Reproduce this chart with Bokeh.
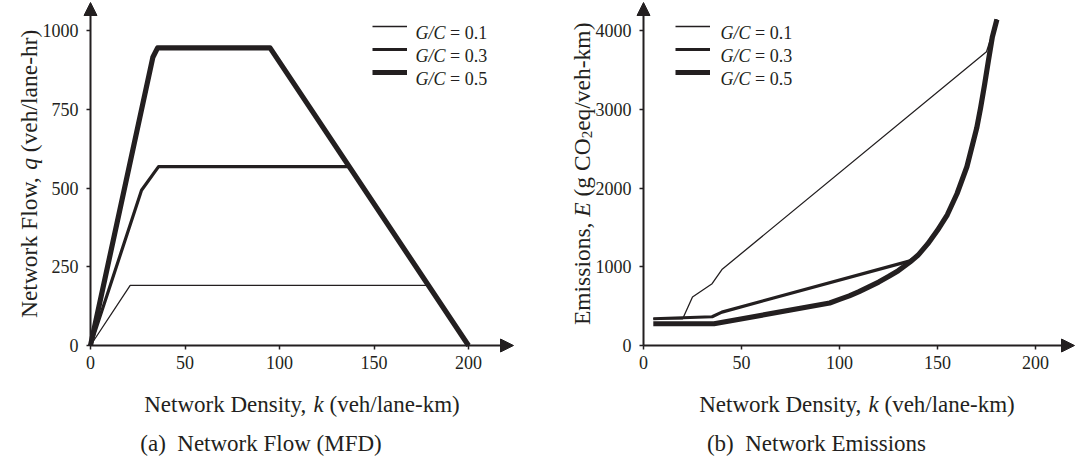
import math
from bokeh.plotting import figure
from bokeh.models import (Range1d, Arrow, NormalHead, Label, Legend, LegendItem,
                          FixedTicker, LinearAxis)
from bokeh.layouts import row
from bokeh.embed import file_html
from bokeh.resources import INLINE

# ---------------- data ----------------
series_names = ["0.1", "0.3", "0.5"]

# (a) Network Flow (MFD): density k, flow q
k_a_01 = [0, 21, 179, 200]
q_a_01 = [0, 191, 191, 0]
k_a_03 = [0, 27, 36, 137, 200]
q_a_03 = [0, 493, 568, 568, 0]
k_a_05 = [0, 33, 35.5, 95, 200]
q_a_05 = [0, 915, 945, 945, 0]

# (b) Network Emissions: density k, emissions E
k_b_01 = [5, 20, 25, 35, 40, 175, 180.3]
e_b_01 = [340, 340, 615, 785, 965, 3730, 4140]
k_b_03 = [5, 35, 40, 136, 140, 145, 150, 155, 160, 165, 170, 172, 174, 176, 178,
          180.3]
e_b_03 = [340, 365, 424, 1075, 1145, 1290, 1463, 1660, 1930, 2270, 2760, 3020,
          3310, 3620, 3920, 4140]
k_b_05 = [5, 36, 95, 100, 105, 110, 115, 120, 125, 130, 136, 140, 145, 150, 155,
          160, 165, 170, 172, 174, 176, 178, 180.3]
e_b_05 = [276, 276, 539, 585, 630, 685, 745, 805, 875, 950, 1060, 1145, 1290,
          1463, 1660, 1930, 2270, 2760, 3020, 3310, 3620, 3920, 4140]

x_ticks = [0, 50, 100, 150, 200]
ya_ticks = [0, 250, 500, 750, 1000]
yb_ticks = [0, 1000, 2000, 3000, 4000]

# ---------------- style ----------------
INK = "#231F20"
FONT = "Liberation Serif"
WIDTHS = [1.3, 3.2, 5.2]
H = 456
ORIGIN_Y = 345          # pixel row of the x axis

REG = {' ': 250, '(': 333, ')': 333, ',': 250, '-': 333, '.': 250, '/': 278,
       '=': 564, 'C': 667, 'D': 722, 'E': 611, 'F': 556, 'G': 722, 'M': 889,
       'N': 722, 'O': 722, 'a': 444, 'b': 500, 'e': 444, 'g': 500, 'h': 500,
       'i': 278, 'k': 500, 'l': 278, 'm': 778, 'n': 500, 'o': 500, 'q': 500,
       'r': 333, 's': 389, 't': 278, 'v': 500, 'w': 722, 'y': 500}
ITA = {'k': 444, 'q': 500, 'E': 611, 'G': 722, 'C': 667, '/': 278}


def tw(s, size, italic=False):
    tab = ITA if italic else REG
    return sum(tab.get(c, REG.get(c, 500)) for c in s) * size / 1000.0


def pieces_width(pieces):
    return sum(tw(t, sz, st == "italic") for t, st, sz, sh in pieces)


def add_pieces(p, pieces, dx, dy, angle=0.0):
    pos = 0.0
    for text, style, size, shift in pieces:
        if text.strip():
            if angle == 0:
                xo, yo = dx + pos, dy - shift
            else:
                xo, yo = dx + shift, dy + pos
            p.add_layout(Label(x=0, y=0, x_offset=xo, y_offset=yo, text=text,
                               text_font=FONT, text_font_size=f"{size}px",
                               text_font_style=style, text_color=INK,
                               text_align="left", text_baseline="alphabetic",
                               angle=angle))
        pos += tw(text, size, style == "italic")


def make_fig(width, origin_x, px_per_x, px_per_y, tip_x, tip_y, yticks):
    x_start = -origin_x / px_per_x
    x_end = (width - origin_x) / px_per_x
    y_end = ORIGIN_Y / px_per_y
    y_start = -(H - ORIGIN_Y) / px_per_y
    p = figure(width=width, height=H, output_backend="svg", toolbar_location=None,
               x_range=Range1d(x_start, x_end), y_range=Range1d(y_start, y_end),
               x_axis_location=None, y_axis_location=None,
               min_border=0)
    p.grid.visible = False
    p.outline_line_color = None
    xa = LinearAxis(fixed_location=0, ticker=FixedTicker(ticks=x_ticks))
    ya = LinearAxis(fixed_location=0, ticker=FixedTicker(ticks=yticks))
    for ax in (xa, ya):
        ax.axis_line_color = None
        ax.major_tick_in = 0
        ax.major_tick_out = 4
        ax.major_tick_line_width = 1.5
        ax.major_tick_line_color = INK
        ax.minor_tick_line_color = None
        ax.major_label_text_font = FONT
        ax.major_label_text_font_size = "18px"
        ax.major_label_text_color = INK
    xa.major_label_standoff = 6
    ya.major_label_standoff = 8
    p.add_layout(xa, "below")
    p.add_layout(ya, "left")
    x_tip = (tip_x - origin_x) / px_per_x
    y_tip = (ORIGIN_Y - tip_y) / px_per_y
    for xe, ye in ((x_tip, 0), (0, y_tip)):
        p.add_layout(Arrow(x_start=0, y_start=0, x_end=xe, y_end=ye,
                           line_width=2, line_color=INK, start=None,
                           end=NormalHead(size=13, fill_color=INK, line_color=INK,
                                          line_width=1)))
    return p


def add_lines(p, data, leg_x, leg_text_dx):
    items = []
    for (xs, ys), w in zip(data, WIDTHS):
        r = p.line(xs, ys, line_width=w, line_color=INK, line_join="round")
        items.append(LegendItem(label="", renderers=[r]))
    leg = Legend(items=items, location=(leg_x, H - 81), padding=0, margin=0,
                 spacing=5, glyph_height=18, glyph_width=35, label_height=18,
                 label_width=0, label_standoff=0, label_text_font_size="8px",
                 border_line_color=None, background_fill_alpha=0)
    p.add_layout(leg)
    for i, name in enumerate(series_names):
        dy = 313 - 23 * i
        add_pieces(p, [("G/C", "italic", 18, 0), (" ", "normal", 18, 0),
                       ("= " + name, "normal", 18, 0)], leg_text_dx, dy)


def add_xlabel(p, center_dx):
    pcs = [("Network Density,", "normal", 23, 0), (" ", "normal", 23, 0),
           ("k", "italic", 23, 0), (" ", "normal", 23, 0),
           ("(veh/lane-km)", "normal", 23, 0)]
    add_pieces(p, pcs, center_dx - pieces_width(pcs) / 2, -59)


def add_ylabel(p, pcs):
    total = pieces_width(pcs)
    add_pieces(p, pcs, -61.5, ORIGIN_Y - (173.3 + total / 2), angle=math.pi / 2)


def add_caption(p, tag, text, center_dx):
    pcs = [(tag, "normal", 23, 0), ("  ", "normal", 23, 0), (text, "normal", 23, 0)]
    add_pieces(p, pcs, center_dx - pieces_width(pcs) / 2, -97.7)


# ---------------- (a) ----------------
OXA = 90
pa = make_fig(536, OXA, 1.89, 0.315, 513, 2, ya_ticks)
add_lines(pa, [(k_a_01, q_a_01), (k_a_03, q_a_03), (k_a_05, q_a_05)], 372, 325)
add_xlabel(pa, (513 - OXA) / 2)
add_ylabel(pa, [("Network Flow,", "normal", 23.5, 0), (" ", "normal", 23.5, 0),
                ("q", "italic", 23.5, 0), (" ", "normal", 23.5, 0),
                ("(veh/lane-hr)", "normal", 23.5, 0)])
add_caption(pa, "(a)", "Network Flow (MFD)", 170.5)

# ---------------- (b) ----------------
OXB = 643 - 536
pb = make_fig(540, OXB, 1.96, 0.07875, 1074 - 536, 2, yb_ticks)
add_lines(pb, [(k_b_01, e_b_01), (k_b_03, e_b_03), (k_b_05, e_b_05)],
          675 - 536, 77)
add_xlabel(pb, (1070 - 643) / 2)
add_ylabel(pb, [("Emissions,", "normal", 23.5, 0), (" ", "normal", 23.5, 0),
                ("E", "italic", 23.5, 0), (" ", "normal", 23.5, 0),
                ("(g CO", "normal", 23.5, 0), ("2", "normal", 15, 5),
                ("eq/veh-km)", "normal", 23.5, 0)])
add_caption(pb, "(b)", "Network Emissions", 173)

layout = row(pa, pb, spacing=0)
open("out.html", "w").write(file_html(layout, INLINE))
